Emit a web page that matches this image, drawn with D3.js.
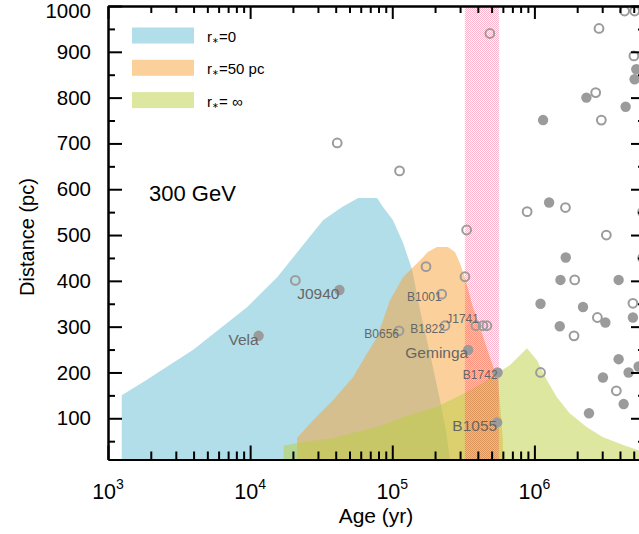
<!DOCTYPE html>
<html><head><meta charset="utf-8">
<script src="https://cdn.jsdelivr.net/npm/d3@7"></script>
<style>
html,body{margin:0;padding:0;background:#fff;}
svg{display:block;font-family:"Liberation Sans",Arial,Helvetica,sans-serif;}
</style></head><body>
<svg id="chart" width="639" height="534"></svg>
<script>
// ---------------- data ----------------
const blueAge  = [1250,1900,4000,9550,15500,32700,44400,57500,78200,86100,101000,119000,138000,157000,184000,216600,238700,254700];
const blueDist = [150,185,250,343,408,533,561,581,581,561,533,483,424,336,242,140,74,10];

const orangeAge  = [21400,27800,38400,53100,66500,78200,96500,119000,138000,157000,178000,206000,246000,276000,299000,324000,369000,427000,486000,553000,580000,600000,600000];
const orangeDist = [57,96,140,190,242,277,358,408,428,445,463,474,474,463,439,408,343,286,234,184,112,53,10];

const greenAge  = [17200,21400,38400,82200,119000,206000,324000,434000,553000,671000,885000,1040000,1220000,1440000,1770000,2330000,3020000,4170000,5500000,6000000];
const greenDist = [40,46,57,83,103,125,155,177,199,216,253,227,184,146,111,81,59,42,29,26];

const bandAge = [324000, 562000];

const openAge  = [20800,41000,112500,486000,172800,333700,324600,222700,111600,234900,387700,434500,463400,1104000,888700,1654000,3208000,1921000,4934000,2775000,1900000,3772000,2848000,4313000,5072000,5013000,2699000,2959000,5770000,5770000];
const openDist = [401,701,640,940,431,511,409,371,291,302,302,302,302,200,551,560,500,402,351,320,280,160,951,989,989,891,811,751,550,450];

const filledAge  = [11470,42500,342300,550700,547000,1269000,1662000,1525000,3914000,1104000,2198000,4934000,3157000,1508000,3914000,4602000,5408000,3036000,4245000,2422000,4384000,1151000,2322000,5212000,5070000];
const filledDist = [280,380,249,200,91,571,451,402,402,350,343,320,309,301,229,200,213,189,131,111,780,751,800,862,840];

const labelNames = ["Vela","J0940","B0656","B1001","B1822","J1741","Geminga","B1742","B1055"];
const labelAge   = [11470,42500,111600,222700,234900,387700,342300,550700,547000];
const labelDist  = [280,380,291,371,302,302,249,200,91];

const legendLabels = ["=0","=50 pc","= \u221e"];
const xMajor = [1e3,1e4,1e5,1e6];
const xExp = ["3","4","5","6"];
const yMajor = [100,200,300,400,500,600,700,800,900,1000];
const yMinor = [50,150,250,350,450,550,650,750,850,950];

// ---------------- styling / layout ----------------
const L = 108, R = 645, T = 6, B = 459.5;
const svg = d3.select("#chart");

const x = d3.scaleLog().domain([1e3, 6e6]).range([L, R]);
const y = d3.scaleLinear().domain([10, 1000]).range([B, T]);

const xMinor = [];
for (let k = 3; k <= 6; k++) for (let m = 2; m <= 9; m++) { const v = m * Math.pow(10, k); if (v <= 6e6) xMinor.push(v); }

const colBlue = "rgba(100,190,210,0.5)";
const colOrange = "rgba(250,162,55,0.5)";
const colGreen = "rgba(187,207,65,0.5)";

const defs = svg.append("defs");
const pat = defs.append("pattern").attr("id","pinkpat").attr("patternUnits","userSpaceOnUse").attr("width",2).attr("height",2);
pat.append("rect").attr("x",0).attr("y",0).attr("width",2).attr("height",2).attr("fill","#fff8fa");
pat.append("rect").attr("x",0).attr("y",0).attr("width",1).attr("height",1).attr("fill","#ffb6cd");
pat.append("rect").attr("x",1).attr("y",1).attr("width",1).attr("height",1).attr("fill","#ffb6cd");
defs.append("clipPath").attr("id","plotclip").append("rect").attr("x",L).attr("y",T).attr("width",R-L).attr("height",B-T);

const plot = svg.append("g").attr("clip-path","url(#plotclip)");

const area = d3.area().x(d => x(d[0])).y0(y(10)).y1(d => y(d[1]));
function drawArea(ages, dists, col) {
  plot.append("path").datum(ages.map((a,i)=>[a,dists[i]])).attr("d", area).attr("fill", col);
}
drawArea(blueAge, blueDist, colBlue);
drawArea(orangeAge, orangeDist, colOrange);
drawArea(greenAge, greenDist, colGreen);

plot.append("rect")
  .attr("x", x(bandAge[0])).attr("width", x(bandAge[1]) - x(bandAge[0]))
  .attr("y", y(1000)).attr("height", y(10) - y(1000))
  .attr("fill","url(#pinkpat)").style("mix-blend-mode","multiply");

// points
const ptCol = "#9b9b9b";
svg.append("g").selectAll("circle").data(filledAge.map((a,i)=>[a,filledDist[i]])).join("circle")
  .attr("cx", d=>x(d[0])).attr("cy", d=>y(d[1])).attr("r",5.2).attr("fill",ptCol);
svg.append("g").selectAll("circle").data(openAge.map((a,i)=>[a,openDist[i]])).join("circle")
  .attr("cx", d=>x(d[0])).attr("cy", d=>y(d[1])).attr("r",4.4).attr("fill","none").attr("stroke",ptCol).attr("stroke-width",2);

// point labels
const labelStyle = {
  "Vela":[0,9,15.5], "J0940":[0,9,15.5], "B0656":[0,7,12], "B1001":[0,7,12], "B1822":[0,7,12],
  "J1741":[3,-3,12], "Geminga":[0,8,15.5], "B1742":[0,7,12], "B1055":[0,9,15.5]
};
svg.append("g").selectAll("text").data(labelNames).join("text")
  .attr("x",(d,i)=>x(labelAge[i]) + labelStyle[d][0])
  .attr("y",(d,i)=>y(labelDist[i]) + labelStyle[d][1])
  .attr("text-anchor","end").attr("font-size",d=>labelStyle[d][2]+"px")
  .attr("fill","#666").text(d=>d);

// axes
function styleAxis(g) {
  g.selectAll("line").attr("stroke","#000").attr("stroke-width",2);
  g.selectAll("path.domain").attr("stroke","#000").attr("stroke-width",2);
}
const axB = svg.append("g").attr("transform",`translate(0,${B})`)
  .call(d3.axisBottom(x).tickValues(xMajor).tickSize(-14).tickSizeOuter(0).tickFormat(""));
const axBm = svg.append("g").attr("transform",`translate(0,${B})`)
  .call(d3.axisBottom(x).tickValues(xMinor).tickSize(-8).tickSizeOuter(0).tickFormat(""));
const axT = svg.append("g").attr("transform",`translate(0,${T})`)
  .call(d3.axisTop(x).tickValues(xMajor).tickSize(-13).tickSizeOuter(0).tickFormat(""));
const axTm = svg.append("g").attr("transform",`translate(0,${T})`)
  .call(d3.axisTop(x).tickValues(xMinor).tickSize(-7).tickSizeOuter(0).tickFormat(""));
const axL = svg.append("g").attr("transform",`translate(${L},0)`)
  .call(d3.axisLeft(y).tickValues(yMajor).tickSize(-14).tickSizeOuter(0).tickPadding(17).tickFormat(d3.format("d")));
const axLm = svg.append("g").attr("transform",`translate(${L},0)`)
  .call(d3.axisLeft(y).tickValues(yMinor).tickSize(-7).tickSizeOuter(0).tickFormat(""));
const axR = svg.append("g").attr("transform",`translate(${R},0)`)
  .call(d3.axisRight(y).tickValues(yMajor).tickSize(-14).tickSizeOuter(0).tickFormat(""));
const axRm = svg.append("g").attr("transform",`translate(${R},0)`)
  .call(d3.axisRight(y).tickValues(yMinor).tickSize(-7).tickSizeOuter(0).tickFormat(""));
[axB,axBm,axT,axTm,axL,axLm,axR,axRm].forEach(styleAxis);
axL.selectAll("text").attr("font-size","20.5px").attr("font-family","Liberation Sans, Arial, sans-serif").attr("fill","#000")
  .attr("y", d => d === 1000 ? 5 : 0);

// bottom tick labels with exponents
const xl = svg.append("g");
xMajor.forEach((v,i) => {
  const t = xl.append("text").attr("x", x(v)).attr("y", 499).attr("text-anchor","middle")
    .attr("font-size","21.5px").attr("fill","#000");
  t.append("tspan").text("10");
  t.append("tspan").attr("font-size","14px").attr("dy",-10).text(xExp[i]);
});

// axis titles
svg.append("text").attr("x",376).attr("y",523).attr("text-anchor","middle").attr("font-size","21px").text("Age (yr)");
svg.append("text").attr("transform","translate(34,237) rotate(-90)").attr("text-anchor","middle").attr("font-size","20px").text("Distance (pc)");

// annotation
svg.append("text").attr("x",149).attr("y",201).attr("font-size","22px").attr("fill","#000").text("300 GeV");

// legend
const legCols = [colBlue, colOrange, colGreen];
const leg = svg.append("g");
legendLabels.forEach((lab,i) => {
  const yy = 27.5 + i*32.3;
  leg.append("rect").attr("x",132).attr("y",yy).attr("width",62).attr("height",16).attr("fill",legCols[i]);
  const t = leg.append("text").attr("x",207).attr("y",yy+14.5).attr("font-size","15px").attr("fill","#000");
  t.append("tspan").text("r");
  t.append("tspan").attr("font-size","8px").attr("dy",1).text("\u2217");
  t.append("tspan").attr("dy",-1).text(lab);
});
</script>
</body></html>
